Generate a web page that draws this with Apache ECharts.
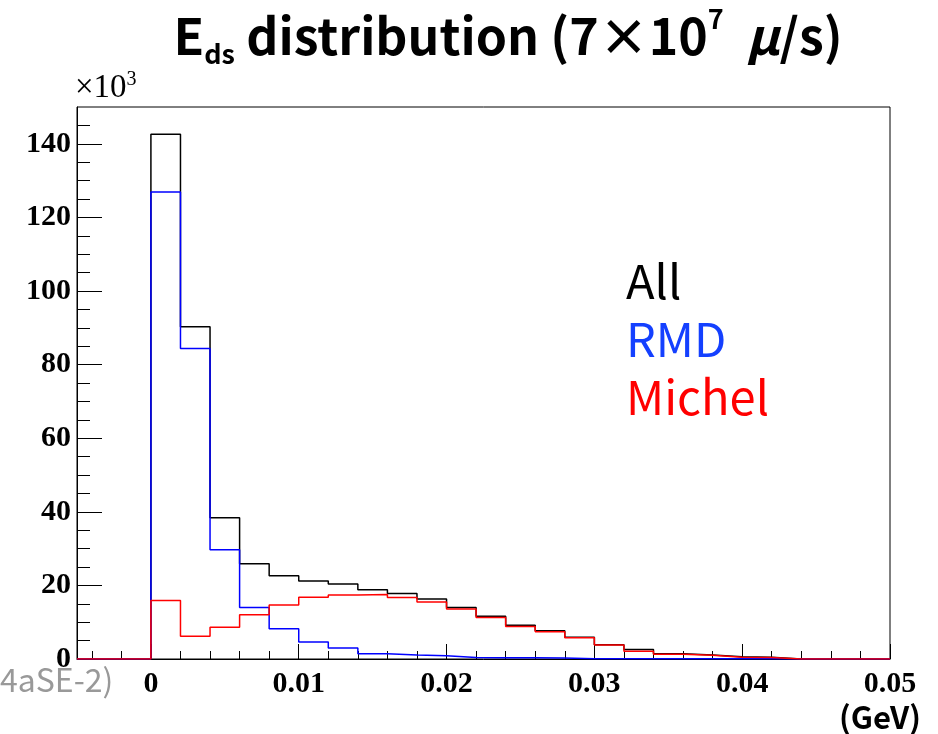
<!DOCTYPE html>
<html><head><meta charset="utf-8">
<script src="https://cdn.jsdelivr.net/npm/echarts@6/dist/echarts.min.js"></script>
<style>html,body{margin:0;padding:0;background:#fff}#c{width:938px;height:734px}</style>
</head><body><div id="c"></div>
<script>
// bin lower edges (GeV), bin width 0.002
const binLowEdges = [0,0.002,0.004,0.006,0.008,0.01,0.012,0.014,0.016,0.018,0.02,0.022,0.024,0.026,0.028,0.03,0.032,0.034,0.036,0.038,0.04,0.042,0.044,0.046,0.048];
const binUpperEdge = 0.05;
const xMin = -0.005, xMax = 0.05;
const yMin = 0, yMax = 150;
// counts in units of 10^3
const allCounts    = [142.6,90.3,38.4,25.9,22.6,21.2,20.4,18.8,17.8,16.3,14.0,11.6,9.2,7.7,5.9,3.9,2.6,1.4,1.1,0.6,0.45,0,0,0,0];
const rmdCounts    = [126.9,84.4,29.7,14.0,8.2,4.6,3.0,1.4,1.1,0.9,0.4,0.35,0.35,0.3,0.1,0.1,0.1,0.1,0.1,0.1,0.05,0,0,0,0];
const michelCounts = [15.9,6.2,8.6,12.0,14.7,16.8,17.4,17.5,16.7,15.5,13.6,11.3,8.8,7.4,5.8,3.8,2.1,1.3,1.0,0.5,0.4,0,0,0,0];
const xMajorTicks = [0,0.01,0.02,0.03,0.04,0.05];
const xMinorTicks = [-0.004,-0.002,0.002,0.004,0.006,0.008,0.012,0.014,0.016,0.018,0.022,0.024,0.026,0.028,0.032,0.034,0.036,0.038,0.042,0.044,0.046,0.048];
const yMajorTicks = [0,20,40,60,80,100,120,140];
const yMinorTicks = [5,10,15,25,30,35,45,50,55,65,70,75,85,90,95,105,110,115,125,130,135,145];
const legendNames = ['All','RMD','Michel'];
const legendColors = ['#000000','#1440ff','#ff0000'];

function steps(vals){
  const d = [[xMin, 0]];
  vals.forEach((v,i)=>d.push([binLowEdges[i], v]));
  d.push([binUpperEdge, vals[vals.length-1]]);
  return d;
}

const gridRect = {left:77, top:107, right:48, bottom:75};
const serif = 'Liberation Serif';
const sans = 'Noto Sans CJK JP';

const chart = echarts.init(document.getElementById('c'), null, {renderer:'canvas'});
const lineColors = ['#000000','#0000ff','#ff0000'];
const seriesVals = [allCounts, rmdCounts, michelCounts];

chart.setOption({
  animation:false,
  backgroundColor:'#fff',
  grid:[
    Object.assign({show:true, borderColor:'#000', borderWidth:1, backgroundColor:'transparent', containLabel:false}, gridRect),
    Object.assign({show:false, containLabel:false}, gridRect)
  ],
  xAxis:[
    {type:'value', gridIndex:0, min:xMin, max:xMax, position:'bottom',
     axisLine:{show:true, onZero:false, lineStyle:{color:'#000', width:1}},
     axisTick:{show:true, inside:true, length:15, customValues:xMajorTicks, lineStyle:{color:'#000', width:1}},
     axisLabel:{show:true, customValues:xMajorTicks, margin:10, color:'#000', fontFamily:serif, fontWeight:'bold', fontSize:30, formatter:v=>String(v)},
     splitLine:{show:false}},
    {type:'value', gridIndex:1, min:xMin, max:xMax, position:'bottom',
     axisLine:{show:false, onZero:false},
     axisTick:{show:true, inside:true, length:8, customValues:xMinorTicks, lineStyle:{color:'#000', width:1}},
     axisLabel:{show:false}, splitLine:{show:false}}
  ],
  yAxis:[
    {type:'value', gridIndex:0, min:yMin, max:yMax, position:'left',
     axisLine:{show:true, onZero:false, lineStyle:{color:'#000', width:1}},
     axisTick:{show:true, inside:true, length:25, customValues:yMajorTicks, lineStyle:{color:'#000', width:1}},
     axisLabel:{show:true, customValues:yMajorTicks, margin:6, color:'#000', fontFamily:serif, fontWeight:'bold', fontSize:30},
     splitLine:{show:false}},
    {type:'value', gridIndex:1, min:yMin, max:yMax, position:'left',
     axisLine:{show:false, onZero:false},
     axisTick:{show:true, inside:true, length:13, customValues:yMinorTicks, lineStyle:{color:'#000', width:1}},
     axisLabel:{show:false}, splitLine:{show:false}}
  ],
  series: seriesVals.map((vals,i)=>({
    type:'line', name:legendNames[i], xAxisIndex:0, yAxisIndex:0,
    step:'end', showSymbol:false, symbol:'none', clip:true, z:2+i,
    lineStyle:{color:lineColors[i], width:1.5},
    data:steps(vals)
  })),
  graphic:[
    {type:'text', x:508, y:5, style:{
      text:'{n|E}{s|ds}{n| distribution (7×10}{p|7}{n|  }{mu|μ}{n|/s)}',
      align:'center', verticalAlign:'top',
      rich:{
        n:{fontFamily:sans, fontWeight:'bold', fontSize:50, lineHeight:62, fill:'#000'},
        s:{fontFamily:sans, fontWeight:'bold', fontSize:27, lineHeight:27, verticalAlign:'bottom', fill:'#000'},
        p:{fontFamily:sans, fontWeight:'bold', fontSize:27, lineHeight:34, verticalAlign:'top', fill:'#000'},
        mu:{fontFamily:sans, fontWeight:'bold', fontStyle:'italic', fontSize:50, lineHeight:62, fill:'#000'}
      }}},
    {type:'text', x:75, y:106, style:{
      text:'{a|×10}{b|3}', align:'left', verticalAlign:'bottom',
      rich:{a:{fontFamily:serif, fontSize:33, lineHeight:33, fill:'#000'},
            b:{fontFamily:serif, fontSize:20, lineHeight:36, verticalAlign:'top', fill:'#000'}}}},
    ...legendNames.map((t,i)=>({type:'text', x:626, y:[281,339,397][i], style:{
      text:t, fill:legendColors[i], fontFamily:sans, fontSize:47, align:'left', verticalAlign:'middle'}})),
    {type:'text', x:0, y:680, style:{text:'4aSE-2)', fill:'#999999', fontFamily:sans, fontSize:32, align:'left', verticalAlign:'middle'}},
    {type:'text', x:921, y:717, style:{text:'(GeV)', fill:'#000', fontFamily:sans, fontWeight:'bold', fontSize:31, align:'right', verticalAlign:'middle'}}
  ]
});
</script></body></html>
